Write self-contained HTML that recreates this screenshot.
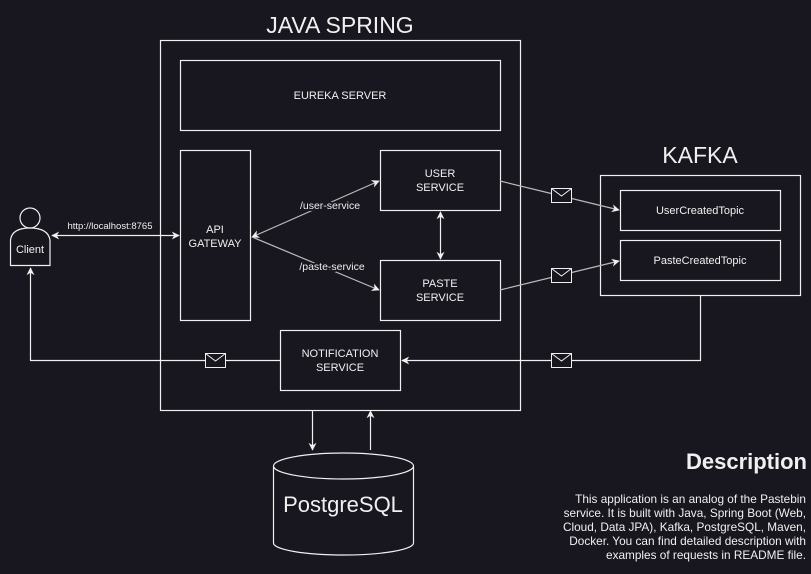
<!DOCTYPE html>
<html><head><meta charset="utf-8"><style>
html,body{margin:0;padding:0;background:#18161e;}
svg{display:block;font-family:"Liberation Sans",sans-serif;}
</style></head><body>
<svg width="811" height="574" viewBox="0 0 811 574" xmlns="http://www.w3.org/2000/svg">
<defs>
<marker id="a" viewBox="0 0 10 10" refX="9" refY="5" markerWidth="8" markerHeight="8" orient="auto-start-reverse" markerUnits="userSpaceOnUse">
<path d="M0,0 L10,5 L0,10 L3,5 Z" fill="#f0f0f0"/></marker>
</defs>
<rect width="811" height="574" fill="#18161e"/>
<g fill="none" stroke="#f0f0f0" stroke-width="1.2">
<rect x="160.5" y="40.5" width="360" height="370"/>
<rect x="180.5" y="60.5" width="320" height="70"/>
<rect x="180.5" y="150.5" width="70" height="170"/>
<rect x="380.5" y="150.5" width="120" height="60"/>
<rect x="380.5" y="260.5" width="120" height="60"/>
<rect x="280.5" y="330.5" width="120" height="60"/>
<rect x="600.5" y="175.5" width="200" height="120"/>
<rect x="620.5" y="190.5" width="160" height="40"/>
<rect x="620.5" y="240.5" width="160" height="40"/>
<circle cx="30" cy="218" r="10"/>
<path d="M10.5,265.5 V240 Q12,228 30,228 Q48,228 50,240 V265.5 Z"/>
<line x1="52" y1="235.5" x2="179" y2="235.5" marker-start="url(#a)" marker-end="url(#a)"/>
<line x1="252" y1="237" x2="379" y2="181" stroke="#bbb" marker-start="url(#a)" marker-end="url(#a)"/>
<line x1="252" y1="237" x2="379" y2="290" stroke="#bbb" marker-end="url(#a)"/>
<line x1="440.5" y1="212" x2="440.5" y2="259" marker-start="url(#a)" marker-end="url(#a)"/>
<line x1="500" y1="181" x2="619" y2="210" stroke="#bbb" marker-end="url(#a)"/>
<line x1="500" y1="290" x2="619" y2="261" stroke="#bbb" marker-end="url(#a)"/>
<polyline points="700.5,296 700.5,360.5 402,360.5" marker-end="url(#a)"/>
<polyline points="280,360.5 30.5,360.5 30.5,268" marker-end="url(#a)"/>
<line x1="312.5" y1="411" x2="312.5" y2="450" marker-end="url(#a)"/>
<line x1="370.5" y1="450" x2="370.5" y2="411" marker-end="url(#a)"/>
<path d="M273.5,466 V543 A70,12 0 0 0 413.5,543 V466" fill="#18161e"/>
<ellipse cx="343.5" cy="466" rx="70" ry="13" fill="#18161e"/>
</g>
<g fill="#18161e" stroke="#f0f0f0" stroke-width="1">
<g transform="translate(551,188)"><rect x="0.5" y="0.5" width="20" height="14"/><path d="M0.5,0.5 L10.5,8 L20.5,0.5" fill="none"/></g>
<g transform="translate(551,268)"><rect x="0.5" y="0.5" width="20" height="14"/><path d="M0.5,0.5 L10.5,8 L20.5,0.5" fill="none"/></g>
<g transform="translate(551,353)"><rect x="0.5" y="0.5" width="20" height="14"/><path d="M0.5,0.5 L10.5,8 L20.5,0.5" fill="none"/></g>
<g transform="translate(205,353)"><rect x="0.5" y="0.5" width="20" height="14"/><path d="M0.5,0.5 L10.5,8 L20.5,0.5" fill="none"/></g>
</g>
<g fill="#f0f0f0" text-anchor="middle" font-size="11">
<text x="340" y="33" font-size="23">JAVA SPRING</text>
<text x="700" y="163" font-size="23">KAFKA</text>
<text x="340" y="99">EUREKA SERVER</text>
<text x="215" y="233">API</text>
<text x="215" y="247">GATEWAY</text>
<text x="440" y="177">USER</text>
<text x="440" y="191">SERVICE</text>
<text x="440" y="287">PASTE</text>
<text x="440" y="301">SERVICE</text>
<text x="340" y="357">NOTIFICATION</text>
<text x="340" y="371">SERVICE</text>
<text x="700" y="214">UserCreatedTopic</text>
<text x="700" y="264">PasteCreatedTopic</text>
<text x="30" y="253">Client</text>
<text x="110" y="229" font-size="9.5">http://localhost:8765</text>
<text x="330" y="209" font-size="10.5" style="paint-order:stroke" stroke="#18161e" stroke-width="4">/user-service</text>
<text x="332" y="270" font-size="10.5" style="paint-order:stroke" stroke="#18161e" stroke-width="4">/paste-service</text>
<text x="343" y="512" font-size="22">PostgreSQL</text>
</g>
<g fill="#f0f0f0" text-anchor="end">
<text x="807" y="469" font-size="22" font-weight="bold">Description</text>
<g font-size="11.8">
<text x="806" y="503">This application is an analog of the Pastebin</text>
<text x="806" y="517">service. It is built with Java, Spring Boot (Web,</text>
<text x="806" y="531">Cloud, Data JPA), Kafka, PostgreSQL, Maven,</text>
<text x="806" y="545">Docker. You can find detailed description with</text>
<text x="806" y="559">examples of requests in README file.</text>
</g></g>
</svg>
</body></html>
